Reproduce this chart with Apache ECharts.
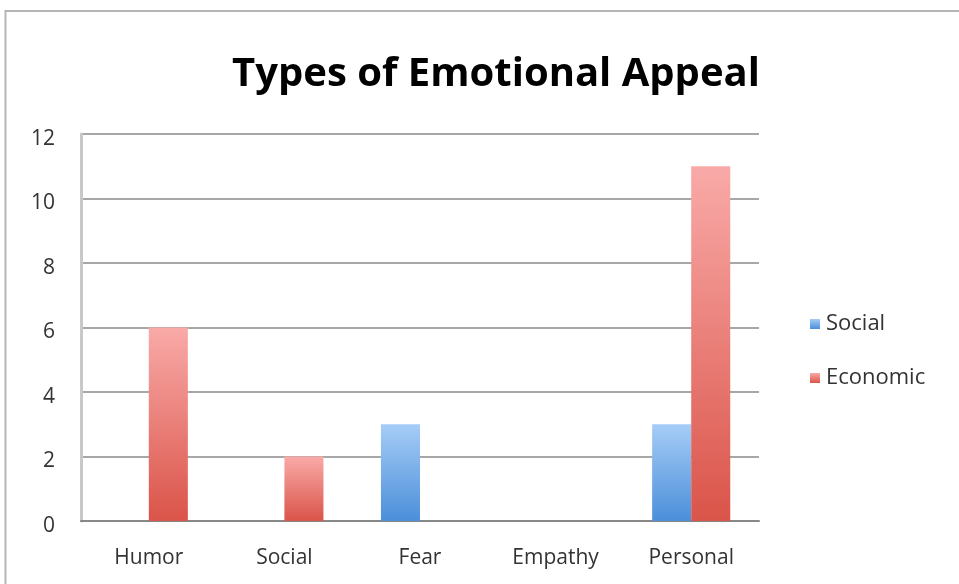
<!DOCTYPE html>
<html><head><meta charset="utf-8">
<script src="https://cdn.jsdelivr.net/npm/echarts@6/dist/echarts.min.js"></script>
<style>html,body{margin:0;padding:0;background:#fff}#c{width:959px;height:584px}</style>
</head><body><div id="c"></div>
<script>
const categories = ['Humor', 'Social', 'Fear', 'Empathy', 'Personal'];
const socialValues = [0, 0, 3, 0, 3];
const economicValues = [6, 2, 0, 0, 11];
const seriesNames = ['Social', 'Economic'];

const chart = echarts.init(document.getElementById('c'), null, {renderer: 'canvas'});
const font = '"Open Sans", "Liberation Sans", sans-serif';
function grad(top, bottom) {
  return new echarts.graphic.LinearGradient(0, 0, 0, 1, [{offset: 0, color: top}, {offset: 1, color: bottom}]);
}
chart.setOption({
  animation: false,
  backgroundColor: '#fff',
  graphic: [{
    type: 'rect', shape: {x: 5.5, y: 11, width: 1000, height: 700},
    style: {fill: 'none', stroke: '#b5b5b5', lineWidth: 2}, silent: true, z: -10
  }],
  title: {
    text: 'Types of Emotional Appeal', left: 491, top: 50, textAlign: 'center',
    textStyle: {fontFamily: font, fontWeight: 'bold', fontSize: 40, color: '#000'}
  },
  legend: {
    orient: 'vertical', left: 805, top: 308, itemGap: 32, itemWidth: 10, itemHeight: 10,
    icon: 'rect', textStyle: {fontFamily: font, fontSize: 22, color: '#333', padding: [0, 0, 0, 1]},
    data: seriesNames
  },
  grid: {left: 81, right: 200, top: 134, bottom: 63, containLabel: false},
  xAxis: {
    type: 'category', data: categories,
    axisLine: {lineStyle: {color: '#888', width: 2}},
    axisTick: {show: false},
    axisLabel: {fontFamily: font, fontSize: 21, color: '#333', margin: 27}
  },
  yAxis: {
    type: 'value', min: 0, max: 12, interval: 2,
    axisLine: {show: true, lineStyle: {color: '#c8c8c8', width: 3}},
    axisTick: {show: false},
    splitLine: {lineStyle: {color: '#8a8a8a', width: 1.5}},
    axisLabel: {
      margin: 26,
      formatter: function (v) { return '{a|' + v + '}'; },
      rich: {a: {fontFamily: font, fontSize: 21, color: '#333', padding: [10, 0, 0, 0]}}
    }
  },
  series: [{
    name: seriesNames[0], type: 'bar', data: socialValues,
    barWidth: '28.8%', barGap: '0%',
    itemStyle: {color: grad('#a6ccf7', '#4b8fd9')}
  }, {
    name: seriesNames[1], type: 'bar', data: economicValues,
    barWidth: '28.8%', barGap: '0%',
    itemStyle: {color: grad('#f9aaa8', '#da5449')}
  }]
});
</script></body></html>
